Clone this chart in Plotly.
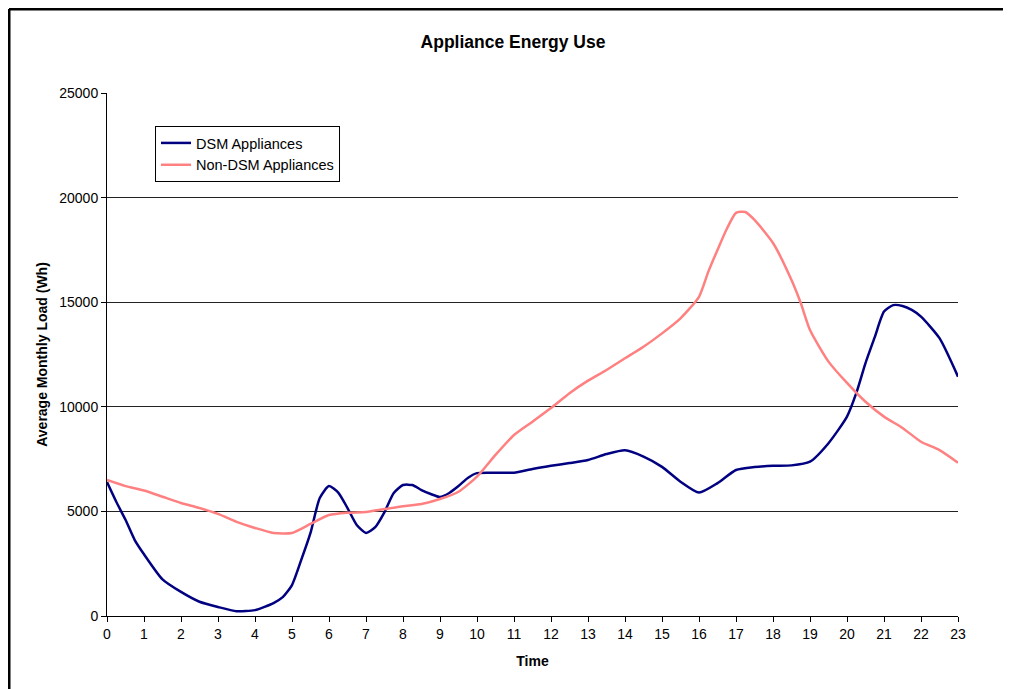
import plotly.graph_objects as go

dsm_hours = [0, 0.25, 0.5, 0.75, 1, 1.5, 2, 2.5, 3, 3.5, 4, 4.5, 4.75, 5, 5.25, 5.5, 5.75, 6, 6.25, 6.5, 6.75,
             7, 7.25, 7.5, 7.75, 8, 8.25, 8.5, 8.75, 9, 9.25, 9.5, 9.75, 10, 10.5, 11, 11.5, 12, 12.5, 13,
             13.5, 14, 14.5, 15, 15.5, 16, 16.5, 17, 17.5, 18, 18.5, 19, 19.5, 20, 20.25, 20.5, 20.75, 21,
             21.25, 21.5, 21.75, 22, 22.5, 23]
dsm_values = [6400, 5460, 4600, 3630, 2950, 1750, 1150, 680, 430, 230, 280, 620, 900, 1480, 2680, 3970, 5640,
              6210, 5900, 5160, 4350, 3970, 4250, 4970, 5880, 6260, 6260, 6020, 5830, 5690, 5880, 6210, 6600,
              6830, 6850, 6850, 7030, 7180, 7310, 7460, 7740, 7920, 7620, 7130, 6420, 5900, 6350, 6980, 7120,
              7180, 7200, 7380, 8260, 9530, 10650, 12090, 13330, 14550, 14860, 14820, 14630, 14310, 13280, 11440]

non_hours = [0, 0.5, 1, 1.5, 2, 2.5, 3, 3.5, 4, 4.5, 5, 5.5, 6, 6.5, 7, 7.5, 8, 8.5, 9, 9.5, 10, 10.5, 11,
             11.5, 12, 12.5, 13, 13.5, 14, 14.5, 15, 15.5, 16, 16.25, 16.5, 16.75, 17, 17.25, 17.5, 18, 18.5,
             18.75, 19, 19.5, 20, 20.5, 21, 21.5, 22, 22.5, 23]
non_values = [6500, 6210, 6000, 5700, 5400, 5160, 4880, 4500, 4210, 3970, 3970, 4400, 4830, 4940, 4970, 5110,
              5250, 5350, 5590, 5940, 6660, 7700, 8650, 9290, 9940, 10650, 11250, 11760, 12320, 12870, 13510,
              14230, 15260, 16450, 17500, 18500, 19270, 19310, 18930, 17830, 16060, 14960, 13670, 12160, 11140,
              10240, 9530, 8990, 8330, 7930, 7330]

x_ticks = list(range(0, 24))
y_ticks = [0, 5000, 10000, 15000, 20000, 25000]

FONT = "Liberation Sans, Arial, sans-serif"

W, H = 1003, 681
L, R, T, B = 99, 53, 85, 73
PW, PH = W - L - R, H - T - B

fig = go.Figure()
fig.add_trace(go.Scatter(x=dsm_hours, y=dsm_values, mode="lines", name="DSM Appliances",
                         line=dict(color="#000080", width=2.5, shape="spline", smoothing=0.6)))
fig.add_trace(go.Scatter(x=non_hours, y=non_values, mode="lines", name="Non-DSM Appliances",
                         line=dict(color="#FF8080", width=2.5, shape="spline", smoothing=0.6)))

fig.update_layout(
    width=W, height=H,
    margin=dict(l=L, r=R, t=T, b=B),
    paper_bgcolor="white", plot_bgcolor="white",
    font=dict(family=FONT, size=14, color="black"),
    title=dict(text="<b>Appliance Energy Use</b>", x=(513 - 107) / PW, xref="paper", xanchor="center",
               y=1 - 34 / H, yanchor="middle", font=dict(size=17.5, family=FONT)),
    showlegend=True,
    legend=dict(x=(155 - 107) / PW, y=(616 - 126) / PH, xanchor="left", yanchor="top",
                bordercolor="black", borderwidth=1, bgcolor="white",
                font=dict(size=14.5, family=FONT), tracegroupgap=0, itemwidth=30),
)
fig.update_xaxes(range=[0, 23], tickvals=x_ticks, ticktext=[str(v) for v in x_ticks],
                 showgrid=False, zeroline=False, showline=True, linecolor="black", linewidth=1,
                 ticks="outside", ticklen=5, tickcolor="black", tickfont=dict(size=14),
                 title=dict(text="<b>Time</b>", font=dict(size=14), standoff=15))
fig.update_yaxes(range=[0, 25000], tickvals=y_ticks, ticktext=[str(v) for v in y_ticks],
                 showgrid=True, gridcolor="#222222", gridwidth=1,
                 zeroline=False, showline=True, linecolor="black", linewidth=1,
                 ticks="outside", ticklen=5, tickcolor="black", tickfont=dict(size=14),
                 title=dict(text="<b>Average Monthly Load (Wh)</b>", font=dict(size=14), standoff=8))

# outer chart frame (left and top edges visible)
fx = (1 - L) / PW
fy = (H - B - 1) / PH
fig.add_shape(type="line", xref="paper", yref="paper", x0=fx, x1=fx, y0=fy, y1=-0.3,
              line=dict(color="black", width=3))
fig.add_shape(type="line", xref="paper", yref="paper", x0=fx, x1=1.2, y0=fy, y1=fy,
              line=dict(color="black", width=3))

fig.write_html("out.html")
